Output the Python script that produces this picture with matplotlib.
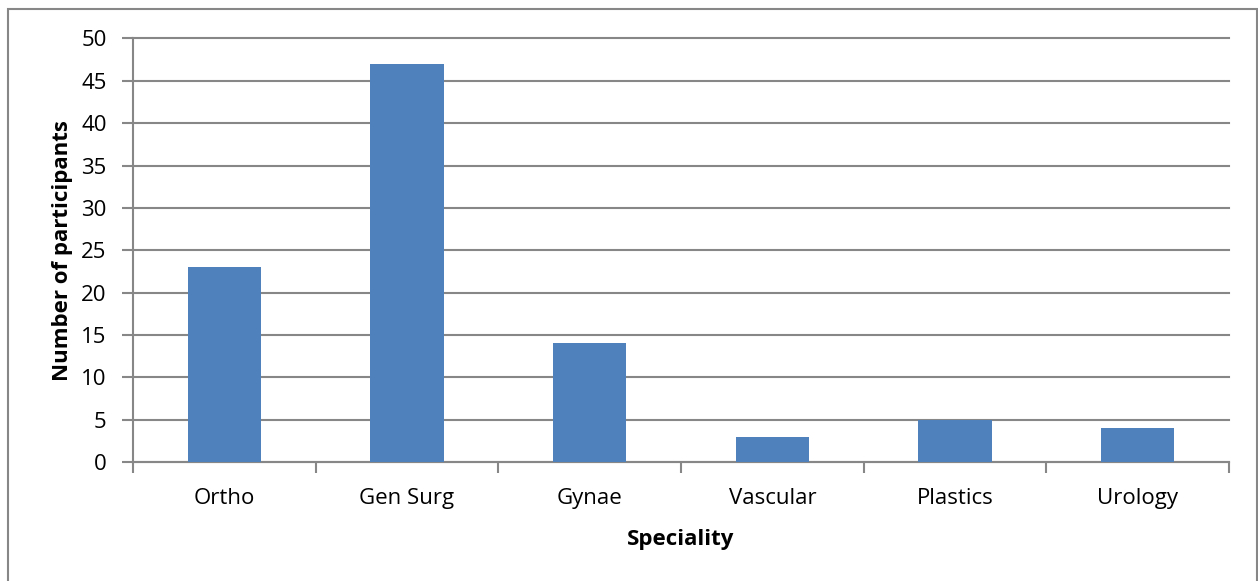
import matplotlib.pyplot as plt
from matplotlib.patches import Rectangle

specialities = ["Ortho", "Gen Surg", "Gynae", "Vascular", "Plastics", "Urology"]
participants = [23, 47, 14, 3, 5, 4]
y_ticks = list(range(0, 51, 5))

plt.rcParams["font.family"] = ["Open Sans", "DejaVu Sans"]

fig = plt.figure(figsize=(12.58, 5.81), dpi=100)
ax = fig.add_axes([133 / 1258, 1 - 462 / 581, (1229 - 133) / 1258, (462 - 38.5) / 581])

grey = "#878787"
x = range(len(specialities))
ax.bar(x, participants, width=0.4, color="#4F81BD", zorder=3)

ax.set_xlim(-0.5, len(specialities) - 0.5)
ax.set_ylim(0, 50)
ax.set_yticks(y_ticks)
ax.set_yticklabels([str(t) for t in y_ticks], fontsize=16)
ax.set_xticks(list(x))
ax.set_xticklabels(specialities, fontsize=16)
ax.tick_params(axis="x", length=0, pad=19)
ax.set_xticks([i - 0.5 for i in range(len(specialities) + 1)], minor=True)
ax.tick_params(axis="x", which="minor", length=8, color=grey, width=1.5, direction="out")
ax.tick_params(axis="y", length=8, color=grey, width=1.5, pad=11)

ax.grid(axis="y", color=grey, linewidth=1.5, zorder=0)
for line in ax.get_ygridlines():
    line.set_clip_on(False)
for side in ["top", "right"]:
    ax.spines[side].set_visible(False)
for side in ["left", "bottom"]:
    ax.spines[side].set_color(grey)
    ax.spines[side].set_linewidth(1.5)

ax.set_xlabel("Speciality", fontsize=16, fontweight="bold", labelpad=14)
ax.set_ylabel("Number of participants", fontsize=16, fontweight="bold", labelpad=6)

# chart area border
fig.patches.append(Rectangle((8 / 1258, -0.05), (1257 - 8) / 1258, 1.05 - 9 / 581,
                             transform=fig.transFigure, fill=False,
                             edgecolor=grey, linewidth=1.5))

fig.savefig("out.png", dpi=100)
